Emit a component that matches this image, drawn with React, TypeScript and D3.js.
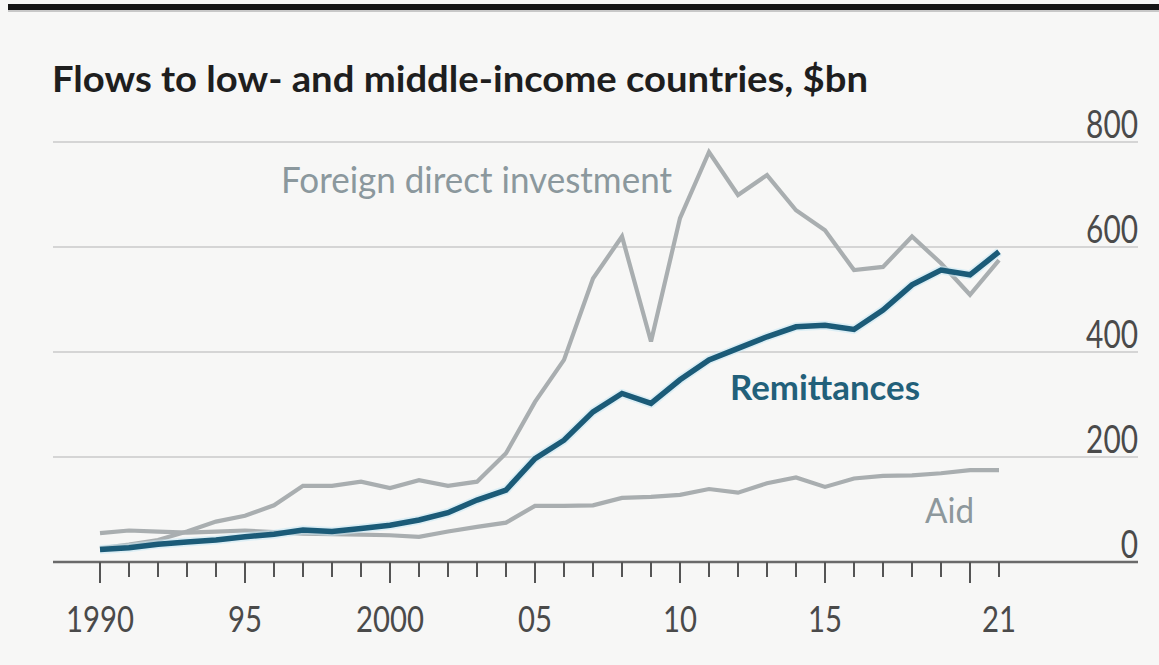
import React from 'react';
import * as d3 from 'd3';

const years = [1990,1991,1992,1993,1994,1995,1996,1997,1998,1999,2000,2001,2002,2003,2004,2005,2006,2007,2008,2009,2010,2011,2012,2013,2014,2015,2016,2017,2018,2019,2020,2021];
const fdi = [26,33,42,58,77,88,108,145,145,153,141,156,145,153,207,305,385,540,620,420,655,781,699,737,670,632,556,562,620,569,509,575];
const remittances = [24,27,34,38,42,48,53,61,58,64,70,80,94,118,137,197,232,286,321,302,347,385,407,429,448,451,443,480,528,556,547,591];
const aid = [55,60,58,56,58,60,57,54,53,52,51,48,58,67,75,107,107,108,122,124,128,139,132,150,161,143,159,164,165,169,175,175];

const yTicks = [0, 200, 400, 600, 800];
const xLabelYears = [1990, 1995, 2000, 2005, 2010, 2015, 2021];
const xLabelTexts = ['1990', '95', '2000', '05', '10', '15', '21'];

const title = 'Flows to low- and middle-income countries, $bn';

const W = 1159;
const H = 665;
const FONT = 'Lato, "Open Sans", sans-serif';

export default function App() {
  const x = d3.scaleLinear().domain([1990, 2021]).range([100, 999]);
  const y = d3.scaleLinear().domain([0, 800]).range([562, 142]);
  const line = d3
    .line<number>()
    .x((_, i) => x(years[i]))
    .y((d) => y(d));

  const gridX0 = 53;
  const gridX1 = 1138;

  return (
    <svg
      width={W}
      height={H}
      style={{ position: 'absolute', left: 0, top: 0, display: 'block' }}
    >
      <rect x={0} y={0} width={W} height={H} fill="#f7f7f6" />
      <rect x={8} y={4} width={W - 8} height={6} fill="#151515" />
      <rect x={8} y={10} width={W - 8} height={2} fill="#c8c8c8" />

      <text
        x={52}
        y={92}
        fontFamily={FONT}
        fontWeight={700}
        fontSize={37}
        fill="#1e1e1e"
        textLength={816}
        lengthAdjust="spacingAndGlyphs"
      >
        {title}
      </text>

      {yTicks.filter((t) => t > 0).map((t) => (
        <line
          key={'g' + t}
          x1={gridX0}
          x2={gridX1}
          y1={y(t)}
          y2={y(t)}
          stroke="#d5d5d5"
          strokeWidth={2}
        />
      ))}

      {yTicks.map((t) => (
        <text
          key={'yl' + t}
          x={gridX1}
          y={y(t) - 4}
          textAnchor="end"
          fontFamily={FONT}
          fontSize={39}
          fill="#4a4a4a"
          textLength={String(t).length * 17.3}
          lengthAdjust="spacingAndGlyphs"
        >
          {t}
        </text>
      ))}

      <path d={line(fdi) || ''} fill="none" stroke="#a9aeb0" strokeWidth={4.2} strokeLinejoin="miter" />
      <path d={line(aid) || ''} fill="none" stroke="#a9aeb0" strokeWidth={4.2} strokeLinejoin="miter" />
      <path d={line(remittances) || ''} fill="none" stroke="#c6e8f4" strokeWidth={9} strokeOpacity={0.55} strokeLinejoin="round" />
      <path d={line(remittances) || ''} fill="none" stroke="#1b5b78" strokeWidth={5.5} strokeLinejoin="miter" />

      <line x1={gridX0} x2={gridX1} y1={y(0)} y2={y(0)} stroke="#6a6a6a" strokeWidth={2.5} />

      {years.map((yr) => (
        <line
          key={'t' + yr}
          x1={x(yr)}
          x2={x(yr)}
          y1={y(0)}
          y2={y(0) + (yr % 5 === 0 ? 21 : 15)}
          stroke="#555"
          strokeWidth={2}
        />
      ))}

      {xLabelYears.map((yr, i) => (
        <text
          key={'xl' + yr}
          x={x(yr)}
          y={632}
          textAnchor="middle"
          fontFamily={FONT}
          fontSize={37}
          fill="#4a4a4a"
          textLength={xLabelTexts[i].length * 17}
          lengthAdjust="spacingAndGlyphs"
        >
          {xLabelTexts[i]}
        </text>
      ))}

      <text
        x={281}
        y={193}
        fontFamily={FONT}
        fontSize={36}
        fill="#8b989d"
        textLength={391}
        lengthAdjust="spacingAndGlyphs"
      >
        Foreign direct investment
      </text>
      <text
        x={730}
        y={400}
        fontFamily={FONT}
        fontWeight={700}
        fontSize={34}
        fill="#22607a"
        textLength={190}
        lengthAdjust="spacingAndGlyphs"
      >
        Remittances
      </text>
      <text
        x={925}
        y={523}
        fontFamily={FONT}
        fontSize={35}
        fill="#8d989c"
        textLength={49}
        lengthAdjust="spacingAndGlyphs"
      >
        Aid
      </text>
    </svg>
  );
}
